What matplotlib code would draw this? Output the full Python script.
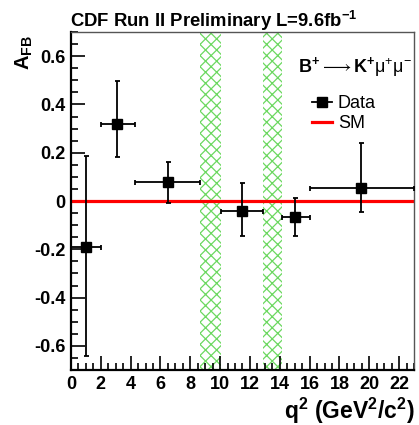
import numpy as np
import matplotlib
matplotlib.use("Agg")
import matplotlib.pyplot as plt
from matplotlib.lines import Line2D
from matplotlib.ticker import MultipleLocator, FuncFormatter

plt.rcParams["font.family"] = ["Liberation Sans", "DejaVu Sans"]
plt.rcParams["mathtext.fontset"] = "custom"
plt.rcParams["mathtext.rm"] = "Liberation Sans"
plt.rcParams["mathtext.it"] = "Liberation Sans:italic"
plt.rcParams["mathtext.bf"] = "Liberation Sans:bold"
plt.rcParams["hatch.linewidth"] = 0.9

# ── data: q^2 bins and A_FB measurements ─────────────────────────────────────
bin_lo   = [0.00, 2.00, 4.30, 10.09, 14.18, 16.00]
bin_hi   = [2.00, 4.30, 8.68, 12.86, 16.00, 23.00]
q2_mean  = [1.00, 3.10, 6.50, 11.45, 15.03, 19.45]
afb      = [-0.19, 0.318, 0.077, -0.043, -0.066, 0.052]
afb_up   = [0.185, 0.497, 0.162, 0.075, 0.012, 0.240]
afb_down = [-0.640, 0.183, -0.010, -0.144, -0.146, -0.046]

# charmonium veto regions
veto_lo = [8.68, 12.86]
veto_hi = [10.09, 14.18]

sm_afb = 0.0

q2_mean = np.array(q2_mean); afb = np.array(afb)
xerr = [q2_mean - np.array(bin_lo), np.array(bin_hi) - q2_mean]
yerr = [afb - np.array(afb_down), np.array(afb_up) - afb]

# ── figure ───────────────────────────────────────────────────────────────────
fig = plt.figure(figsize=(4.19, 4.25), dpi=100)
ax = fig.add_axes([0.1695, 0.1294, 0.8185, 0.7953])
ax.set_xlim(0, 23)
ax.set_ylim(-0.7, 0.7)

for lo, hi in zip(veto_lo, veto_hi):
    ax.axvspan(lo, hi, facecolor="none", edgecolor="#6cd860", hatch="xxx",
               linewidth=0, zorder=1)

ax.axhline(sm_afb, color="#ff0000", lw=2.3, zorder=2)

ax.errorbar(q2_mean, afb, xerr=xerr, yerr=yerr, fmt="s", color="black",
            ms=6.5, elinewidth=1.3, capsize=1.8, capthick=1.3, zorder=3)

# ROOT-style axes
for side in ("top", "right"):
    ax.spines[side].set_linewidth(1.0)
    ax.spines[side].set_color("#555555")
for side in ("left", "bottom"):
    ax.spines[side].set_linewidth(1.6)
ax.xaxis.set_major_locator(MultipleLocator(2))
ax.xaxis.set_minor_locator(MultipleLocator(0.5))
ax.yaxis.set_major_locator(MultipleLocator(0.2))
ax.yaxis.set_minor_locator(MultipleLocator(0.05))
ax.tick_params(which="both", direction="in", top=False, right=False, width=1.2)
ax.tick_params(which="major", length=10, labelsize=13, pad=4)
ax.tick_params(which="minor", length=5)
ax.yaxis.set_major_formatter(FuncFormatter(lambda v, p: "0" if abs(v) < 1e-9 else f"{v:.1f}"))
for lab in ax.get_xticklabels() + ax.get_yticklabels():
    lab.set_fontweight("bold")

fig.text(0.168, 0.937, r"CDF Run II Preliminary L=9.6fb$^{\mathbf{-1}}$",
         fontsize=13.3, fontweight="bold", ha="left", va="baseline")
fig.text(0.99, 0.014, r"q$^{\mathbf{2}}$ (GeV$^{\mathbf{2}}$/c$^{\mathbf{2}}$)",
         fontsize=16.5, fontweight="bold", ha="right", va="baseline")
fig.text(0.058, 0.918, r"A$_{\mathbf{FB}}$", fontsize=14.5, fontweight="bold",
         rotation=90, ha="center", va="top")

ax.text(0.663, 0.895, r"$\mathbf{B^{+}}\longrightarrow\mathbf{K^{+}}\mathrm{\mu}^{+}\mathrm{\mu}^{-}$",
        transform=ax.transAxes, fontsize=13, ha="left", va="center")

handles = [
    Line2D([], [], color="black", marker="s", ms=6.5, lw=1.3),
    Line2D([], [], color="#ff0000", lw=2.3),
]
ax.legend(handles, ["Data", "SM"], loc="upper left", bbox_to_anchor=(0.665, 0.85),
          frameon=False, fontsize=13, handlelength=1.1, handletextpad=0.35,
          labelspacing=0.15, borderpad=0.2)

fig.savefig("out.png", dpi=100)
